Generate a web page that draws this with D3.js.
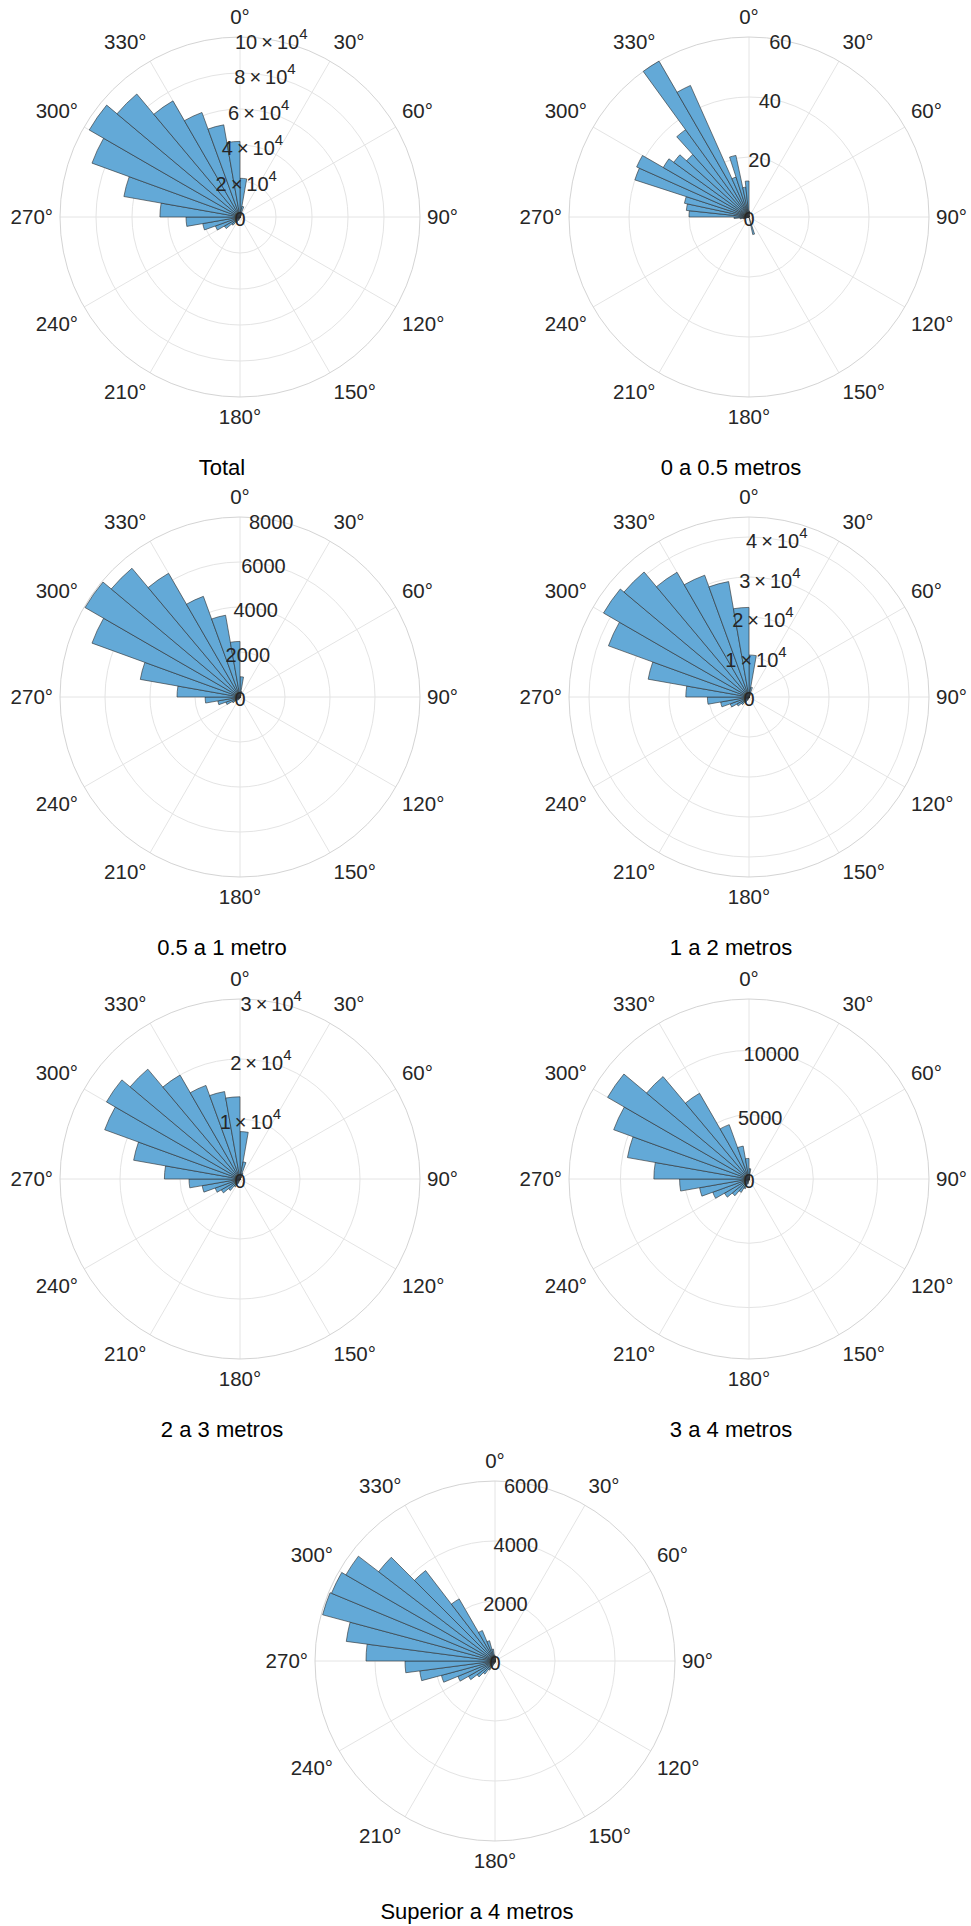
<!DOCTYPE html>
<html>
<head>
<meta charset="utf-8">
<script src="https://cdn.jsdelivr.net/npm/d3@7"></script>
<style>
  html, body { margin: 0; padding: 0; background: #ffffff; }
  svg { display: block; }
  text { font-family: "Liberation Sans", Arial, Helvetica, sans-serif; }
</style>
</head>
<body>
<svg id="chart" width="971" height="1926"></svg>
<script>
// ---------------- DATA ----------------
const panelTitles = ["Total", "0 a 0.5 metros", "0.5 a 1 metro", "1 a 2 metros",
                     "2 a 3 metros", "3 a 4 metros", "Superior a 4 metros"];

// Counts per direction bin (bins start at 0°, clockwise). Bin width = 360 / length.
// Total: 36 bins of 10°
const countsTotal = [21500, 6000, 2000, 1000, 500, 300, 200, 200, 200, 200, 200, 200,
                     200, 200, 200, 300, 300, 400, 500, 1000, 2000, 3500, 6000, 10000,
                     14500, 21000, 30000, 44500, 65500, 87500, 96700, 89200, 74500, 61800, 52000, 42000];
// 0 a 0.5 metros: 60 bins of 6°
const counts0to05 = [2, 0, 0, 0, 0, 0, 0, 0, 0, 0, 0, 0, 0, 0, 0,
                     0, 0, 0, 0, 0, 0, 0, 0, 0, 0, 0, 0, 6, 0, 0,
                     0, 0, 0, 0, 0, 0, 0, 0, 0, 0, 0, 0, 2, 3, 5,
                     20, 21, 22, 40, 41, 33, 31, 28, 36, 60, 48, 14, 21, 10, 12];
// 0.5 a 1 metro: 36 bins of 10°
const counts05to1 = [900, 250, 100, 50, 30, 30, 30, 30, 30, 30, 30, 30,
                     30, 30, 30, 30, 30, 30, 40, 60, 100, 150, 250, 400,
                     670, 1000, 1550, 2800, 4500, 7000, 7950, 7470, 6350, 4760, 3690, 2470];
// 1 a 2 metros: 36 bins of 10°
const counts1to2 = [10500, 2500, 800, 400, 200, 100, 100, 100, 100, 100, 100, 100,
                    100, 100, 100, 100, 100, 150, 250, 500, 900, 1500, 2500, 3500,
                    5000, 7200, 10400, 15800, 25600, 37400, 42000, 40800, 36000, 32400, 29300, 22400];
// 2 a 3 metros: 36 bins of 10°
const counts2to3 = [7900, 2900, 1000, 400, 200, 100, 100, 100, 100, 100, 100, 100,
                    100, 100, 100, 100, 100, 100, 150, 300, 800, 1500, 2500, 3600,
                    4400, 6400, 8500, 12600, 18000, 24000, 25700, 23900, 20000, 16600, 14800, 13700];
// 3 a 4 metros: 36 bins of 10°
const counts3to4 = [800, 300, 150, 80, 50, 50, 50, 50, 50, 50, 50, 50,
                    50, 50, 50, 50, 50, 80, 150, 400, 800, 1200, 1700, 2200,
                    3000, 3900, 5400, 7400, 9600, 11200, 12700, 10400, 7700, 4500, 2600, 1600];
// Superior a 4 metros: 48 bins of 7.5°
const countsOver4 = [150, 80, 50, 30, 20, 20, 20, 20, 20, 20, 20, 20,
                     20, 20, 20, 20, 20, 20, 20, 20, 20, 20, 30, 40,
                     50, 70, 100, 200, 350, 550, 750, 1020, 1340, 1850, 2530, 3000,
                     4300, 5000, 5950, 5900, 5740, 4890, 3800, 2390, 1100, 700, 400, 200];

// Radial axis limits and ticks
const rMaxes = [100000, 60, 8000, 45000, 30000, 14000, 6000];
const rTicksTotal  = [0, 20000, 40000, 60000, 80000, 100000];
const rTicks0to05  = [0, 20, 40, 60];
const rTicks05to1  = [0, 2000, 4000, 6000, 8000];
const rTicks1to2   = [0, 10000, 20000, 30000, 40000];
const rTicks2to3   = [0, 10000, 20000, 30000];
const rTicks3to4   = [0, 5000, 10000];
const rTicksOver4  = [0, 2000, 4000, 6000];
// Tick label styles: "sci" => k×10^4, "plain" => number
const rTickFormats = ["sci", "plain", "plain", "sci", "sci", "plain", "plain"];

const thetaTicks = [0, 30, 60, 90, 120, 150, 180, 210, 240, 270, 300, 330];
const thetaTickLabels = ["0°", "30°", "60°", "90°", "120°", "150°", "180°", "210°", "240°", "270°", "300°", "330°"];

// ---------------- LAYOUT ----------------
const svg = d3.select("#chart");
const R = 180;
const centers = [[240, 217], [749, 217], [240, 697], [749, 697], [240, 1179], [749, 1179], [495, 1661]];
const allCounts = [countsTotal, counts0to05, counts05to1, counts1to2, counts2to3, counts3to4, countsOver4];
const allTicks = [rTicksTotal, rTicks0to05, rTicks05to1, rTicks1to2, rTicks2to3, rTicks3to4, rTicksOver4];

const gridColor = "#e4e4e4";
const outerColor = "#d4d4d4";
const barFill = "#63a9d7";
const barStroke = "#2b2b2b";
const textColor = "#262626";

const angle = d3.scaleLinear().domain([0, 360]).range([0, 2 * Math.PI]);

panelTitles.forEach((title, p) => {
  const [cx, cy] = centers[p];
  const g = svg.append("g").attr("transform", `translate(${cx},${cy})`);
  const r = d3.scaleLinear().domain([0, rMaxes[p]]).range([0, R]);
  const ticks = allTicks[p];

  // grid circles
  const gridVals = ticks.filter(t => t > 0 && t < rMaxes[p]);
  g.selectAll("circle.grid").data(gridVals).join("circle")
    .attr("class", "grid").attr("r", d => r(d))
    .attr("fill", "none").attr("stroke", gridColor).attr("stroke-width", 1);
  // spokes
  g.selectAll("line.spoke").data(thetaTicks).join("line")
    .attr("class", "spoke")
    .attr("x1", 0).attr("y1", 0)
    .attr("x2", d => R * Math.sin(angle(d)))
    .attr("y2", d => -R * Math.cos(angle(d)))
    .attr("stroke", gridColor).attr("stroke-width", 1);
  // outer circle
  g.append("circle").attr("r", r(rMaxes[p])).attr("fill", "none")
    .attr("stroke", outerColor).attr("stroke-width", 1);

  // bars
  const counts = allCounts[p];
  const w = 360 / counts.length;
  const arc = d3.arc().innerRadius(0);
  g.selectAll("path.bar").data(counts.map((v, i) => ({ v, i }))).join("path")
    .attr("class", "bar")
    .attr("d", d => arc({ outerRadius: r(d.v), startAngle: angle(d.i * w), endAngle: angle((d.i + 1) * w) }))
    .attr("fill", barFill)
    .attr("stroke", barStroke)
    .attr("stroke-width", 0.6)
    .attr("stroke-linejoin", "miter");

  // theta labels
  const anchorR = R + 7;
  thetaTicks.forEach((t, k) => {
    const s = Math.sin(angle(t)), c = Math.cos(angle(t));
    const ax = anchorR * s, ay = -anchorR * c;
    const anchor = s > 0.01 ? "start" : (s < -0.01 ? "end" : "middle");
    const by = c > 0.01 ? ay - 6 : (c < -0.01 ? ay + 20 : ay + 7);
    g.append("text").attr("x", ax).attr("y", by)
      .attr("text-anchor", anchor)
      .attr("font-size", 20.5).attr("fill", textColor)
      .text(thetaTickLabels[k]);
  });

  // r tick labels along 10°
  const ra = angle(10);
  ticks.forEach(t => {
    const rr = r(t);
    const x = rr * Math.sin(ra), y = -rr * Math.cos(ra) + 2;
    const txt = g.append("text").attr("x", x).attr("y", y)
      .attr("text-anchor", "middle").attr("dominant-baseline", "central")
      .attr("font-size", 20).attr("fill", textColor);
    if (rTickFormats[p] === "sci" && t !== 0) {
      const m = t / 10000;
      txt.append("tspan").text(`${m}\u2009\u00D7\u200910`);
      txt.append("tspan").attr("font-size", 15).attr("dy", -9).text("4");
    } else {
      txt.text(String(t));
    }
  });

  // title
  svg.append("text").attr("x", cx - 18).attr("y", cy + 258)
    .attr("text-anchor", "middle").attr("font-size", 22).attr("fill", "#000")
    .text(title);
});
</script>
</body>
</html>
